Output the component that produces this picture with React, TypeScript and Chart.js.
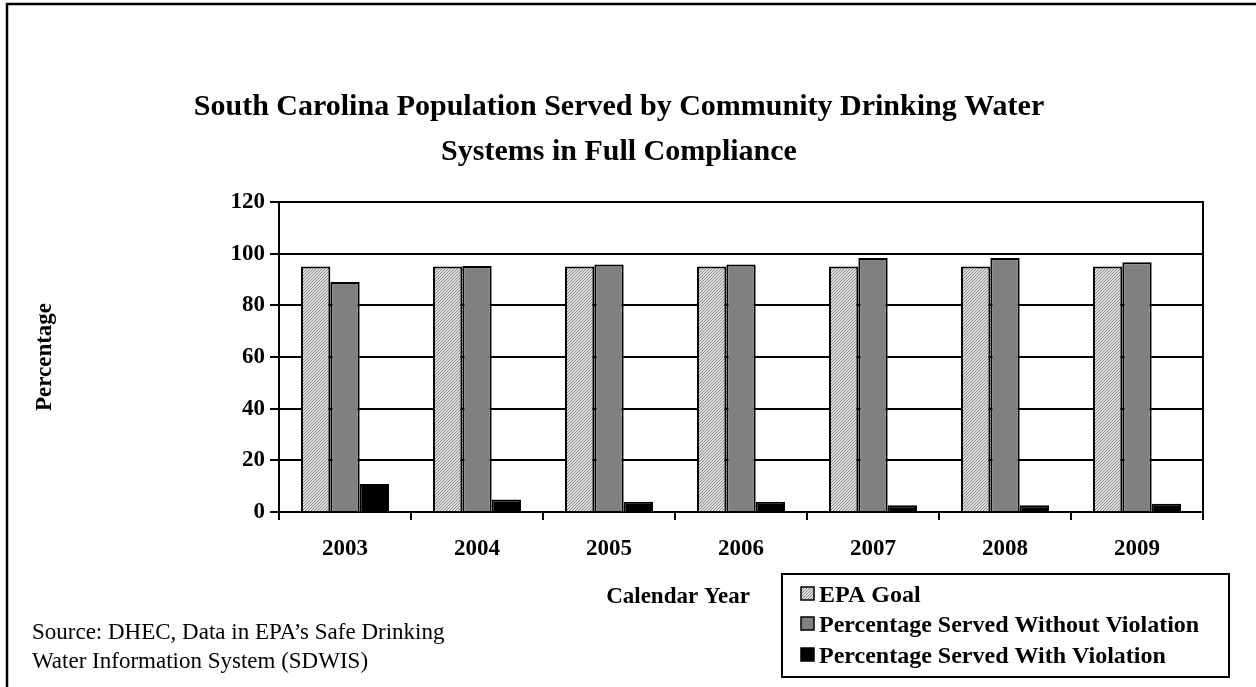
import React, { useEffect, useRef } from "react";
import { Chart, registerables } from "chart.js";

Chart.register(...registerables);

const years = ["2003", "2004", "2005", "2006", "2007", "2008", "2009"];
const epaGoal = [95, 95, 95, 95, 95, 95, 95];
const servedWithoutViolation = [89, 95.2, 95.8, 95.8, 98.3, 98.3, 96.7];
const servedWithViolation = [10.8, 4.8, 4.0, 4.0, 2.6, 2.6, 3.2];
const seriesNames = [
  "EPA Goal",
  "Percentage Served Without Violation",
  "Percentage Served With Violation",
];
const titleLines = [
  "South Carolina Population Served by Community Drinking Water",
  "Systems in Full Compliance",
];
const xAxisTitle = "Calendar Year";
const yAxisTitle = "Percentage";
const sourceLines = [
  "Source: DHEC, Data in EPA\u2019s Safe Drinking",
  "Water Information System (SDWIS)",
];

const SERIF = "'Liberation Serif', 'Times New Roman', Times, serif";

function makeHatch(): CanvasPattern | string {
  const c = document.createElement("canvas");
  c.width = 3;
  c.height = 3;
  const g = c.getContext("2d");
  if (!g) return "#c8c8c8";
  g.fillStyle = "#dedede";
  g.fillRect(0, 0, 3, 3);
  g.fillStyle = "#8c8c8c";
  for (let i = 0; i < 3; i++) {
    g.fillRect(i, 2 - i, 1, 1);
  }
  const p = g.createPattern(c, "repeat");
  return p || "#c8c8c8";
}

export default function App() {
  const ref = useRef<HTMLCanvasElement | null>(null);

  useEffect(() => {
    const canvas = ref.current;
    if (!canvas) return;
    const hatch = makeHatch();
    const colors: (CanvasPattern | string)[] = [hatch, "#808080", "#000000"];

    const decor = {
      id: "decor",
      afterDraw(chart: any) {
        const ctx = chart.ctx as CanvasRenderingContext2D;
        const area = chart.chartArea;
        ctx.save();
        // outer frame (left and top visible)
        ctx.strokeStyle = "#000";
        ctx.lineWidth = 2.5;
        ctx.beginPath();
        ctx.moveTo(7, 700);
        ctx.lineTo(7, 4);
        ctx.lineTo(1270, 4);
        ctx.stroke();

        // right border of plot area
        ctx.lineWidth = 2;
        ctx.beginPath();
        ctx.moveTo(area.right, area.top - 1);
        ctx.lineTo(area.right, area.bottom + 8);
        ctx.stroke();

        ctx.fillStyle = "#000";
        // title
        ctx.font = `bold 30px ${SERIF}`;
        ctx.textAlign = "center";
        ctx.textBaseline = "alphabetic";
        ctx.fillText(titleLines[0], 619, 115);
        ctx.fillText(titleLines[1], 619, 160);

        // x axis title
        ctx.font = `bold 23px ${SERIF}`;
        ctx.fillText(xAxisTitle, 678, 603);

        // y axis title
        ctx.save();
        ctx.translate(51, (area.top + area.bottom) / 2);
        ctx.rotate(-Math.PI / 2);
        ctx.textAlign = "center";
        ctx.fillText(yAxisTitle, 0, 0);
        ctx.restore();

        // source
        ctx.font = `23px ${SERIF}`;
        ctx.textAlign = "left";
        ctx.fillText(sourceLines[0], 32, 639);
        ctx.fillText(sourceLines[1], 32, 668);

        // legend
        ctx.lineWidth = 2;
        ctx.strokeStyle = "#000";
        ctx.strokeRect(782, 574, 447, 103);
        const baselines = [602, 632, 663];
        ctx.font = `bold 24px ${SERIF}`;
        seriesNames.forEach((name, i) => {
          const b = baselines[i];
          ctx.fillStyle = colors[i] as any;
          ctx.fillRect(801, b - 15, 13, 13);
          ctx.lineWidth = 1.5;
          ctx.strokeStyle = "#000";
          ctx.strokeRect(801, b - 15, 13, 13);
          ctx.fillStyle = "#000";
          ctx.fillText(name, 819, b);
        });
        ctx.restore();
      },
    };

    const datasets = [epaGoal, servedWithoutViolation, servedWithViolation].map(
      (data, i) => ({
        label: seriesNames[i],
        data,
        backgroundColor: colors[i] as any,
        borderColor: "#000",
        borderWidth: 2,
        borderSkipped: "bottom" as const,
        categoryPercentage: 0.667,
        barPercentage: 1,
      })
    );

    const tickFont = { family: SERIF, weight: "bold" as const, size: 23 };

    const chart = new Chart(canvas, {
      type: "bar",
      data: { labels: years, datasets },
      options: {
        animation: false,
        responsive: false,
        maintainAspectRatio: false,
        devicePixelRatio: 1,
        layout: { padding: { top: 202, right: 53, bottom: 0, left: 0 } },
        plugins: {
          legend: { display: false },
          title: { display: false },
          tooltip: { enabled: false },
        },
        scales: {
          x: {
            type: "category",
            offset: true,
            grid: {
              offset: true,
              drawOnChartArea: false,
              drawTicks: true,
              tickLength: 8,
              color: "#000",
              lineWidth: 2,
            },
            border: { display: true, color: "#000", width: 2 },
            ticks: { font: tickFont, color: "#000", padding: 15, maxRotation: 0 },
            afterFit(scale: any) {
              scale.height = 175;
            },
          },
          y: {
            min: 0,
            max: 120,
            ticks: { stepSize: 20, font: tickFont, color: "#000", padding: 5 },
            grid: {
              color: "#000",
              lineWidth: 2,
              drawTicks: true,
              tickLength: 9,
            },
            border: { display: true, color: "#000", width: 2 },
            afterFit(scale: any) {
              scale.width = 279;
            },
          },
        },
      },
      plugins: [decor],
    });

    return () => chart.destroy();
  }, []);

  return (
    <div style={{ position: "absolute", left: 0, top: 0, width: 1256, height: 687, background: "#fff" }}>
      <canvas ref={ref} width={1256} height={687} style={{ display: "block", width: 1256, height: 687 }} />
    </div>
  );
}
